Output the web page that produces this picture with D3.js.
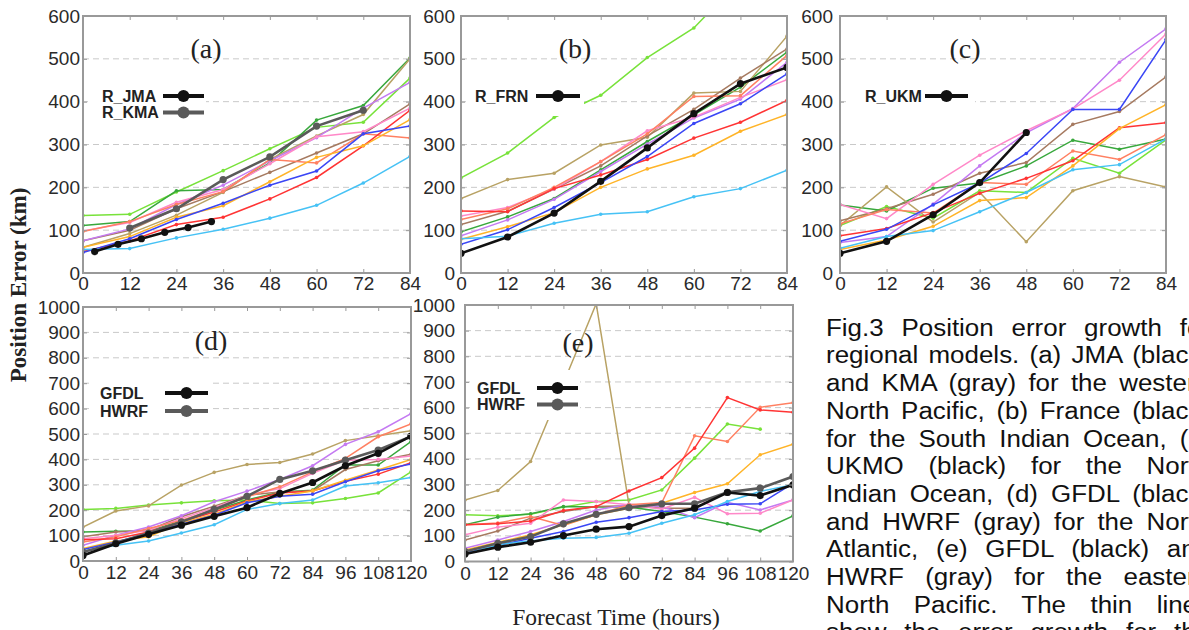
<!DOCTYPE html>
<html>
<head>
<meta charset="utf-8">
<script src="https://cdn.jsdelivr.net/npm/d3@7"></script>
<style>
  body { margin: 0; background: #fff; width: 1189px; height: 630px; overflow: hidden; position: relative; }
  svg { position: absolute; left: 0; top: 0; }
  .cap { position: absolute; left: 826px; top: 314.8px; transform: scaleX(1.113); transform-origin: 0 0;
         font-family: "Liberation Sans", Arial, sans-serif; font-size: 23.3px; color: #111; }
  .cap div { width: 345px; height: 27.7px; line-height: 27.7px; text-align: justify; text-align-last: justify; }
</style>
</head>
<body>
<svg id="chart" width="1189" height="630"></svg>
<script>
// forecast hours and tick values
const hours84 = [0, 12, 24, 36, 48, 60, 72, 84];
const hours120 = [0, 12, 24, 36, 48, 60, 72, 84, 96, 108, 120];
const ticks600 = [0, 100, 200, 300, 400, 500, 600];
const ticks1000 = [0, 100, 200, 300, 400, 500, 600, 700, 800, 900, 1000];

// thin lines, same order in every panel:
// lime, green, olive, brown, violet, pink, salmon, red, orange, blue, cyan
const thinColors = ["#78e23a", "#38a83c", "#b8a264", "#a67a60", "#c47af2", "#ff88c8",
                    "#ff8062", "#ff3434", "#ffb428", "#3a46f5", "#46c2f5"];

// (a) western North Pacific
const thinA = [
  [134, 137, 189, 239, 290, 340, 352, 455],
  [111, 120, 192, 195, 257, 357, 391, 502],
  [60, 92, 135, 188, 265, 320, 370, 500],
  [75, 100, 150, 190, 235, 280, 325, 395],
  [75, 103, 160, 205, 262, 316, 385, 445],
  [98, 118, 165, 195, 255, 318, 330, 385],
  [97, 120, 160, 190, 265, 257, 325, 315],
  [50, 75, 113, 130, 173, 223, 297, 380],
  [60, 85, 130, 157, 213, 270, 297, 358],
  [48, 80, 125, 163, 205, 238, 325, 343],
  [55, 57, 82, 102, 128, 158, 210, 272]
];
const jmaHours = [3, 9, 15, 21, 27, 33];
const jmaA = [50, 67, 80, 95, 106, 120];
const kmaHours = [12, 24, 36, 48, 60, 72];
const kmaA = [105, 150, 218, 271, 343, 380];

// (b) South Indian Ocean
const thinB = [
  [222, 280, 363, 415, 503, 572, 685, null],
  [96, 131, 174, 241, 307, 369, 434, 516],
  [174, 218, 233, 299, 317, 420, 424, 553],
  [113, 144, 196, 250, 320, 382, 455, 523],
  [87, 124, 172, 237, 301, 362, 406, 492],
  [133, 153, 196, 260, 332, 364, 410, 451],
  [125, 150, 200, 260, 325, 412, 414, 508],
  [145, 143, 197, 229, 265, 315, 352, 403],
  [79, 108, 141, 200, 243, 275, 331, 370],
  [67, 101, 153, 211, 272, 349, 395, 465],
  [80, 86, 116, 137, 143, 178, 197, 240]
];
const frnB = [46, 84, 140, 214, 292, 372, 442, 480];

// (c) North Indian Ocean
const thinC = [
  [111, 155, 128, 192, 188, 268, 233, 311],
  [159, 145, 198, 210, 250, 310, 289, 313],
  [111, 201, 119, 188, 73, 192, 225, 201],
  [122, 150, 184, 233, 258, 347, 377, 458],
  [71, 85, 161, 250, 327, 384, 492, 570],
  [160, 127, 207, 275, 332, 383, 450, 558],
  [115, 148, 140, 211, 207, 285, 265, 323],
  [87, 104, 141, 186, 221, 262, 339, 351],
  [55, 77, 109, 169, 176, 250, 337, 393],
  [74, 102, 159, 210, 279, 382, 382, 545],
  [58, 85, 99, 143, 188, 241, 253, 313]
];
const ukmHours = [0, 12, 24, 36, 48];
const ukmC = [46, 74, 136, 211, 328];

// (d) North Atlantic
const thinD = [
  [203, 207, 220, 229, 237, 240, 226, 229, 246, 268, 351],
  [114, 117, 118, 158, 200, 240, 272, 279, 378, 378, 470],
  [134, 197, 217, 299, 349, 380, 388, 421, 474, 493, 513],
  [95, 114, 121, 174, 216, 259, 272, 276, 360, 395, 420],
  [62, 101, 134, 178, 233, 275, 321, 375, 459, 509, 580],
  [88, 101, 121, 167, 210, 259, 285, 345, 397, 400, 413],
  [75, 95, 128, 160, 203, 253, 292, 351, 404, 489, 540],
  [84, 88, 114, 154, 193, 236, 268, 276, 314, 342, 387],
  [49, 79, 95, 150, 184, 233, 255, 276, 318, 358, 400],
  [45, 75, 108, 145, 180, 229, 255, 263, 312, 355, 382],
  [39, 62, 79, 110, 143, 203, 226, 240, 295, 308, 329]
];
const gfdlD = [22, 68, 105, 141, 176, 210, 266, 309, 375, 424, 492];
const hwrfD = [35, 71, 110, 154, 203, 255, 321, 355, 397, 437, 490];

// (e) eastern North Pacific
const thinE = [
  [182, 178, 184, 212, 234, 240, 279, 403, 536, 516, null],
  [143, 173, 186, 214, 212, 212, 195, 173, 147, 119, 178],
  [240, 277, 390, 695, 1005, 221, 215, null, null, null, null],
  [84, 119, 169, 195, 214, 217, 208, 208, null, null, null],
  [52, 84, 117, 156, 201, 223, 214, 171, 231, 201, 240],
  [104, 134, 149, 240, 234, 221, 205, 250, 186, 188, 240],
  [143, 150, 175, 140, 182, 221, 230, 490, 468, 601, 619],
  [143, 147, 158, 199, 214, 275, 327, 442, 639, 591, 582],
  [45, 75, 104, 143, 182, 208, 227, 269, 303, 416, 457],
  [32, 62, 91, 117, 153, 171, 195, 201, 223, 225, 305],
  [29, 65, 81, 91, 94, 110, 149, 182, 234, 273, 299]
];
const gfdlE = [29, 56, 75, 101, 126, 136, 179, 208, 269, 257, 299];
const hwrfE = [39, 71, 97, 147, 184, 210, 225, 225, 270, 286, 331];

const captionLines = [
  "Fig.3 Position error growth for",
  "regional models. (a) JMA (black)",
  "and KMA (gray) for the western",
  "North Pacific, (b) France (black)",
  "for the South Indian Ocean, (c)",
  "UKMO (black) for the North",
  "Indian Ocean, (d) GFDL (black)",
  "and HWRF (gray) for the North",
  "Atlantic, (e) GFDL (black) and",
  "HWRF (gray) for the eastern",
  "North Pacific. The thin lines",
  "show the error growth for the"
];

const BLACK = "#111", GRAY = "#5a5a5a";
const sans = '"Liberation Sans", Arial, sans-serif';
const serif = '"Liberation Serif", "Times New Roman", serif';

const svg = d3.select("#chart");

function drawPanel(p) {
  const x = d3.scaleLinear().domain([0, p.xMax]).range([p.left, p.right]);
  const y = d3.scaleLinear().domain([0, p.yMax]).range([p.bottom, p.top]);
  const g = svg.append("g");

  svg.append("clipPath").attr("id", "clip-" + p.id)
    .append("rect")
    .attr("x", p.left).attr("y", p.top)
    .attr("width", p.right - p.left).attr("height", p.bottom - p.top);

  // dashed grid
  g.append("g").selectAll("line")
    .data(p.yTicks.filter(v => v > 0 && v < p.yMax))
    .enter().append("line")
    .attr("x1", p.left).attr("x2", p.right)
    .attr("y1", d => y(d)).attr("y2", d => y(d))
    .attr("stroke", "#c9c9c9").attr("stroke-width", 1).attr("stroke-dasharray", "6,4");

  const line = d3.line().x(d => x(d[0])).y(d => y(d[1]));
  const plot = g.append("g").attr("clip-path", `url(#clip-${p.id})`);

  p.thin.forEach((vals, i) => {
    const pts = p.hours.map((h, j) => [h, vals[j]]).filter(d => d[1] != null);
    plot.append("path").datum(pts)
      .attr("d", line).attr("fill", "none")
      .attr("stroke", thinColors[i]).attr("stroke-width", 1.5);
    plot.append("g").selectAll("circle").data(pts).enter().append("circle")
      .attr("cx", d => x(d[0])).attr("cy", d => y(d[1])).attr("r", 1.8)
      .attr("fill", thinColors[i]);
  });

  p.thick.forEach(s => {
    const pts = s.hours.map((h, j) => [h, s.values[j]]);
    plot.append("path").datum(pts)
      .attr("d", line).attr("fill", "none")
      .attr("stroke", s.color).attr("stroke-width", 2.6);
    plot.append("g").selectAll("circle").data(pts).enter().append("circle")
      .attr("cx", d => x(d[0])).attr("cy", d => y(d[1])).attr("r", 3.6)
      .attr("fill", s.color);
  });

  // legend box hides what passes under it
  const lg = p.legend;
  g.append("rect")
    .attr("x", lg.box[0]).attr("y", lg.box[1])
    .attr("width", lg.box[2]).attr("height", lg.box[3])
    .attr("fill", "#fff");
  lg.items.forEach((it, k) => {
    const yy = lg.y + k * lg.step;
    g.append("text")
      .attr("x", lg.textX).attr("y", yy + 5.5)
      .attr("font-family", sans).attr("font-weight", "bold").attr("font-size", 16)
      .attr("fill", "#222").text(it.name);
    g.append("line")
      .attr("x1", lg.x1).attr("x2", lg.x2).attr("y1", yy).attr("y2", yy)
      .attr("stroke", it.color).attr("stroke-width", 4);
    g.append("circle")
      .attr("cx", (lg.x1 + lg.x2) / 2).attr("cy", yy).attr("r", 6)
      .attr("fill", it.color);
  });

  // frame and inner ticks
  g.append("rect")
    .attr("x", p.left).attr("y", p.top)
    .attr("width", p.right - p.left).attr("height", p.bottom - p.top)
    .attr("fill", "none").attr("stroke", "#999").attr("stroke-width", 2);

  const fmt = d3.format("d");
  const xAxis = g.append("g").attr("transform", `translate(0,${p.bottom})`)
    .call(d3.axisBottom(x).tickValues(p.xTicks).tickFormat(fmt)
      .tickSizeInner(-4).tickSizeOuter(0).tickPadding(p.xPad));
  g.append("g").attr("transform", `translate(0,${p.top})`)
    .call(d3.axisTop(x).tickValues(p.xTicks).tickSizeInner(-4).tickSizeOuter(0).tickFormat(""));
  const yAxis = g.append("g").attr("transform", `translate(${p.left},0)`)
    .call(d3.axisLeft(y).tickValues(p.yTicks).tickFormat(fmt)
      .tickSizeInner(-4).tickSizeOuter(0).tickPadding(p.labelPad));
  g.append("g").attr("transform", `translate(${p.right},0)`)
    .call(d3.axisRight(y).tickValues(p.yTicks).tickSizeInner(-4).tickSizeOuter(0).tickFormat(""));

  g.selectAll(".domain").remove();
  g.selectAll(".tick line").attr("stroke", "#999");
  [xAxis, yAxis].forEach(a => a.selectAll("text")
    .attr("font-family", sans).attr("font-size", 19).attr("fill", "#2a2a2a"));

  g.append("text")
    .attr("x", p.tag[0]).attr("y", p.tag[1])
    .attr("text-anchor", "middle")
    .attr("font-family", serif).attr("font-size", 28).attr("fill", "#222")
    .text(p.tag[2]);
}

drawPanel({
  id: "a", left: 83, right: 410, top: 16, bottom: 273, xMax: 84, yMax: 600,
  hours: hours84, xTicks: hours84, yTicks: ticks600, labelPad: 3, xPad: 3, thin: thinA,
  thick: [
    { hours: kmaHours, values: kmaA, color: GRAY },
    { hours: jmaHours, values: jmaA, color: BLACK }
  ],
  legend: { box: [88, 80, 118, 45], textX: 102, x1: 163, x2: 204, y: 96, step: 16.5,
            items: [{ name: "R_JMA", color: BLACK }, { name: "R_KMA", color: GRAY }] },
  tag: [206, 58, "(a)"]
});

drawPanel({
  id: "b", left: 461, right: 787, top: 16, bottom: 273, xMax: 84, yMax: 600,
  hours: hours84, xTicks: hours84, yTicks: ticks600, labelPad: 6, xPad: 3, thin: thinB,
  thick: [{ hours: hours84, values: frnB, color: BLACK }],
  legend: { box: [466, 80, 118, 36], textX: 475, x1: 536, x2: 580, y: 96, step: 16.5,
            items: [{ name: "R_FRN", color: BLACK }] },
  tag: [575, 58, "(b)"]
});

drawPanel({
  id: "c", left: 840, right: 1166, top: 16, bottom: 273, xMax: 84, yMax: 600,
  hours: hours84, xTicks: hours84, yTicks: ticks600, labelPad: 7, xPad: 3, thin: thinC,
  thick: [{ hours: ukmHours, values: ukmC, color: BLACK }],
  legend: { box: [850, 80, 125, 36], textX: 865, x1: 925, x2: 968, y: 96, step: 16.5,
            items: [{ name: "R_UKM", color: BLACK }] },
  tag: [965, 58, "(c)"]
});

drawPanel({
  id: "d", left: 83, right: 411, top: 307, bottom: 561, xMax: 120, yMax: 1000,
  hours: hours120, xTicks: hours120, yTicks: ticks1000, labelPad: 3, xPad: 5, thin: thinD,
  thick: [
    { hours: hours120, values: hwrfD, color: GRAY },
    { hours: hours120, values: gfdlD, color: BLACK }
  ],
  legend: { box: [90, 372, 122, 52], textX: 100, x1: 165, x2: 208, y: 393, step: 18,
            items: [{ name: "GFDL", color: BLACK }, { name: "HWRF", color: GRAY }] },
  tag: [211, 350, "(d)"]
});

drawPanel({
  id: "e", left: 465, right: 793, top: 305, bottom: 561.5, xMax: 120, yMax: 1000,
  hours: hours120, xTicks: hours120, yTicks: ticks1000, labelPad: 10, xPad: 5, thin: thinE,
  thick: [
    { hours: hours120, values: hwrfE, color: GRAY },
    { hours: hours120, values: gfdlE, color: BLACK }
  ],
  legend: { box: [470, 370, 110, 50], textX: 477, x1: 537, x2: 578, y: 388, step: 16.5,
            items: [{ name: "GFDL", color: BLACK }, { name: "HWRF", color: GRAY }] },
  tag: [578, 352, "(e)"]
});

// shared axis titles
svg.append("text")
  .attr("transform", "translate(18,285) rotate(-90)")
  .attr("text-anchor", "middle").attr("dy", "0.35em")
  .attr("font-family", serif).attr("font-weight", "bold").attr("font-size", 23)
  .attr("fill", "#222")
  .text("Position Error (km)");

svg.append("text")
  .attr("x", 616).attr("y", 625)
  .attr("text-anchor", "middle")
  .attr("font-family", serif).attr("font-size", 23.5).attr("fill", "#222")
  .text("Forecast Time (hours)");

// caption column on the right, cut by the page edge as in the source figure
d3.select("body").append("div").attr("class", "cap")
  .selectAll("div").data(captionLines).enter().append("div")
  .text(d => d);
</script>
</body>
</html>
